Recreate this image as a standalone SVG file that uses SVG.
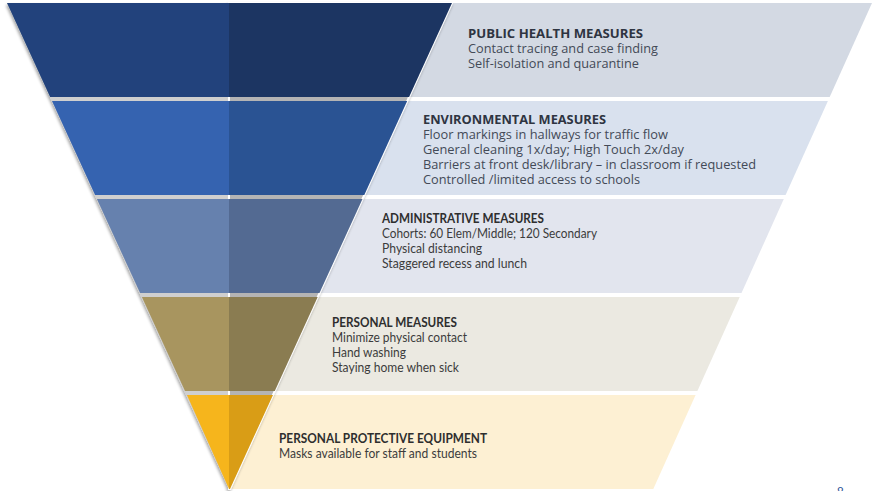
<svg xmlns="http://www.w3.org/2000/svg" width="873" height="491" viewBox="0 0 873 491">
<style>
.os{font-family:"Open Sans","Noto Sans",sans-serif;font-size:12.3px;fill:#434a57}
.ost{font-family:"Open Sans","Noto Sans",sans-serif;font-size:12px;font-weight:bold;fill:#2e3441}
.my{font-family:Lato,"Open Sans",sans-serif;font-size:12.8px;fill:#3c3c3c}
.myt{font-family:Lato,"Open Sans",sans-serif;font-size:12.3px;font-weight:bold;fill:#2e2e2e}
</style>
<defs>
<filter id="sh" x="-10%" y="-10%" width="120%" height="120%">
<feGaussianBlur in="SourceAlpha" stdDeviation="1.6"/>
<feOffset dx="-1.5" dy="1.5" result="b"/>
<feComponentTransfer><feFuncA type="linear" slope="0.35"/></feComponentTransfer>
<feMerge><feMergeNode/><feMergeNode in="SourceGraphic"/></feMerge>
</filter>
</defs>
<rect width="873" height="491" fill="#ffffff"/>

<g id="panels">
<polygon points="229,3 872,3 829.7,97 229,97" fill="#d3d9e3"/>
<polygon points="229,101 827.9,101 785.6,195 229,195" fill="#d9e1ee"/>
<polygon points="229,199 783.8,199 741.5,293 229,293" fill="#e2e5ee"/>
<polygon points="229,297 739.7,297 697.4,391 229,391" fill="#ebe9e1"/>
<polygon points="229,395 695.6,395 653.3,489 229,489" fill="#fdf0d3"/>
</g>

<g id="funnel" filter="url(#sh)">
<polygon points="7,3 229,3 229,489" fill="#cfcfcf"/>
<polygon points="229,3 452,3 230,489 229,489" fill="#b4b4b4" stroke="#ffffff" stroke-width="2"/>
<polygon points="7,3 229,3 229,97 50.1,97" fill="#22437b"/>
<polygon points="229,3 452,3 409.1,97 229,97" fill="#1b3462"/>
<polygon points="52,101 229,101 229,195 95.1,195" fill="#3563b0"/>
<polygon points="229,101 407.2,101 364.3,195 229,195" fill="#2b5293"/>
<polygon points="96.9,199 229,199 229,293 140.1,293" fill="#6681ae"/>
<polygon points="229,199 362.5,199 319.5,293 229,293" fill="#536a92"/>
<polygon points="141.9,297 229,297 229,391 185,391" fill="#a8955f"/>
<polygon points="229,297 317.7,297 274.8,391 229,391" fill="#8a7b51"/>
<polygon points="186.9,395 229,395 229,489" fill="#f6b51e"/>
<polygon points="229,395 273,395 230,489 229,489" fill="#d99d14"/>
</g>

<g id="public-health">
<text class="ost" x="468" y="38" textLength="175" lengthAdjust="spacingAndGlyphs">PUBLIC HEALTH MEASURES</text>
<text class="os" x="468" y="53" textLength="190" lengthAdjust="spacingAndGlyphs">Contact tracing and case finding</text>
<text class="os" x="468" y="68" textLength="171" lengthAdjust="spacingAndGlyphs">Self-isolation and quarantine</text>
</g>

<g id="environmental">
<text class="ost" x="423" y="124" textLength="183" lengthAdjust="spacingAndGlyphs">ENVIRONMENTAL MEASURES</text>
<text class="os" x="423" y="138.5" textLength="245" lengthAdjust="spacingAndGlyphs">Floor markings in hallways for traffic flow</text>
<text class="os" x="423" y="153.5" textLength="261" lengthAdjust="spacingAndGlyphs">General cleaning 1x/day; High Touch 2x/day</text>
<text class="os" x="423" y="168.5" textLength="333" lengthAdjust="spacingAndGlyphs">Barriers at front desk/library – in classroom if requested</text>
<text class="os" x="423" y="183.5" textLength="217" lengthAdjust="spacingAndGlyphs">Controlled /limited access to schools</text>
</g>

<g id="administrative">
<text class="myt" x="382" y="223" textLength="162" lengthAdjust="spacingAndGlyphs">ADMINISTRATIVE MEASURES</text>
<text class="my" x="382" y="238" textLength="215" lengthAdjust="spacingAndGlyphs">Cohorts: 60 Elem/Middle; 120 Secondary</text>
<text class="my" x="382" y="253" textLength="100" lengthAdjust="spacingAndGlyphs">Physical distancing</text>
<text class="my" x="382" y="268" textLength="145" lengthAdjust="spacingAndGlyphs">Staggered recess and lunch</text>
</g>

<g id="personal">
<text class="myt" x="332" y="327" textLength="125" lengthAdjust="spacingAndGlyphs">PERSONAL MEASURES</text>
<text class="my" x="332" y="342" textLength="135" lengthAdjust="spacingAndGlyphs">Minimize physical contact</text>
<text class="my" x="332" y="357" textLength="74" lengthAdjust="spacingAndGlyphs">Hand washing</text>
<text class="my" x="332" y="372" textLength="127" lengthAdjust="spacingAndGlyphs">Staying home when sick</text>
</g>

<g id="ppe">
<text class="myt" x="279" y="443" textLength="208" lengthAdjust="spacingAndGlyphs">PERSONAL PROTECTIVE EQUIPMENT</text>
<text class="my" x="279" y="458" textLength="198" lengthAdjust="spacingAndGlyphs">Masks available for staff and students</text>
</g>

<g id="page-number">
<text x="837" y="496" font-family="'Liberation Sans',Arial,sans-serif" font-size="12" fill="#2f5597">8</text>
</g>
</svg>
